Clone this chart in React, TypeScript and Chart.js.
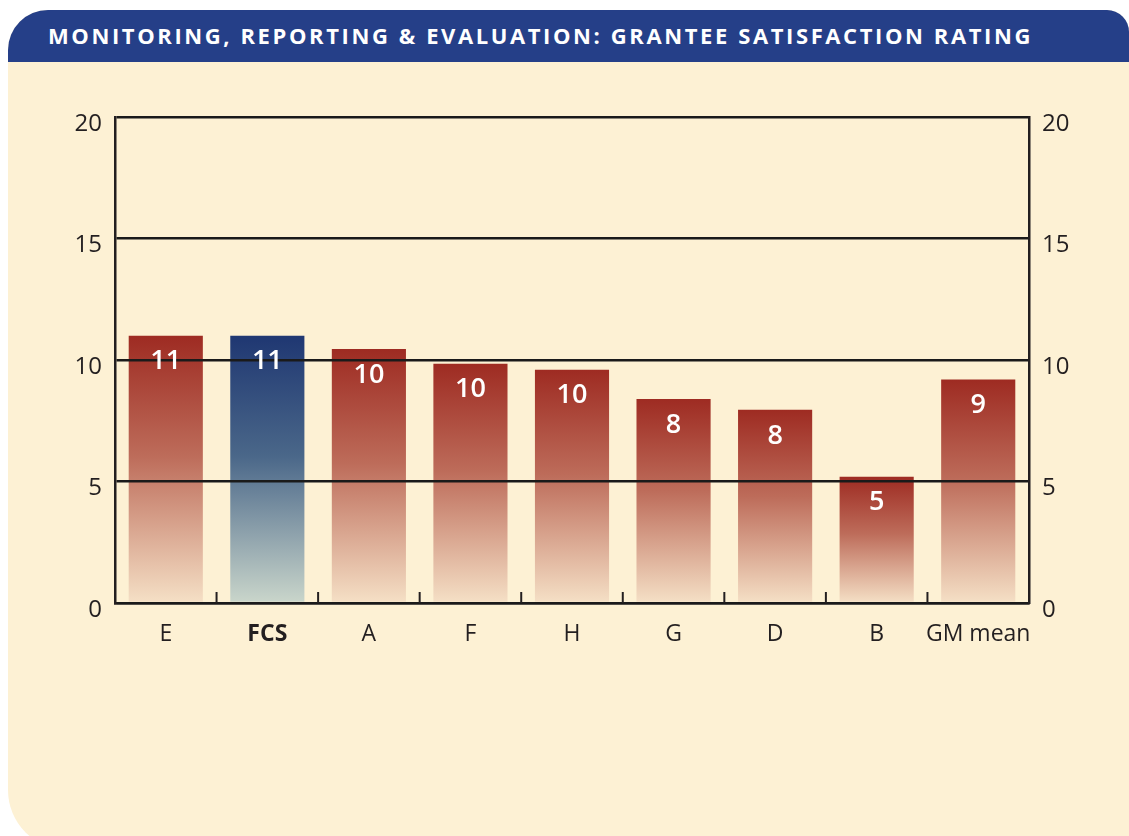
import React, { useEffect, useRef } from "react";
import { Chart, registerables } from "chart.js";

Chart.register(...registerables);

const TITLE = "MONITORING, REPORTING & EVALUATION: GRANTEE SATISFACTION RATING";
const categories = ["E", "FCS", "A", "F", "H", "G", "D", "B", "GM mean"];
const ratings = [11.0, 11.0, 10.45, 9.85, 9.6, 8.4, 7.95, 5.2, 9.2];
const highlighted = "FCS";
const yMin = 0;
const yMax = 20;
const yStep = 5;

const FONT = '"Open Sans", "Noto Sans", sans-serif';
const INK = "#231F20";
const CREAM = "#FDF1D4";
const NAVY = "#253F88";

const RED_STOPS: [number, string][] = [
  [0, "#9E2B22"],
  [0.45, "#BD6C5A"],
  [1, "#F5E0C6"],
];
const BLUE_STOPS: [number, string][] = [
  [0, "#1F3772"],
  [0.45, "#4A6789"],
  [1, "#CAD6CB"],
];

const valueLabels = {
  id: "valueLabels",
  afterDraw(chart: any) {
    const ctx = chart.ctx;
    const meta = chart.getDatasetMeta(0);
    const data = chart.data.datasets[0].data as number[];
    ctx.save();
    ctx.fillStyle = "#FFFFFF";
    ctx.font = `600 27px ${FONT}`;
    ctx.textAlign = "center";
    ctx.textBaseline = "middle";
    meta.data.forEach((bar: any, i: number) => {
      ctx.fillText(String(Math.round(data[i])), bar.x, bar.y + 26);
    });
    ctx.restore();
  },
};

const innerTicks = {
  id: "innerTicks",
  afterDraw(chart: any) {
    const ctx = chart.ctx;
    const x = chart.scales.x;
    const bottom = chart.chartArea.bottom;
    ctx.save();
    ctx.strokeStyle = INK;
    ctx.lineWidth = 2;
    for (let i = 0; i < categories.length - 1; i++) {
      const px = (x.getPixelForValue(i) + x.getPixelForValue(i + 1)) / 2;
      ctx.beginPath();
      ctx.moveTo(px, bottom);
      ctx.lineTo(px, bottom - 11);
      ctx.stroke();
    }
    ctx.restore();
  },
};

function makeGradient(chart: any, value: number, stops: [number, string][]) {
  const { chartArea, scales } = chart;
  if (!chartArea || !scales.y) return stops[0][1];
  const top = scales.y.getPixelForValue(value);
  const bottom = scales.y.getPixelForValue(0);
  const g = chart.ctx.createLinearGradient(0, top, 0, bottom);
  stops.forEach(([o, c]) => g.addColorStop(o, c));
  return g;
}

export default function App() {
  const canvasRef = useRef<HTMLCanvasElement | null>(null);

  useEffect(() => {
    if (!canvasRef.current) return;
    const tickFont = { family: FONT, size: 24 };
    const chart = new Chart(canvasRef.current, {
      type: "bar",
      data: {
        labels: categories,
        datasets: [
          {
            data: ratings,
            backgroundColor: (c: any) => {
              if (c.type !== "data") return RED_STOPS[0][1];
              const stops = categories[c.dataIndex] === highlighted ? BLUE_STOPS : RED_STOPS;
              return makeGradient(c.chart, c.raw as number, stops);
            },
            borderWidth: 0,
            barPercentage: 0.73,
            categoryPercentage: 1,
          },
        ],
      },
      options: {
        responsive: false,
        animation: false,
        layout: { padding: { top: 55, left: 0, right: 0, bottom: 0 } },
        plugins: {
          legend: { display: false },
          tooltip: { enabled: false },
          title: { display: false },
        },
        scales: {
          x: {
            grid: { display: false, drawTicks: false },
            border: { display: true, color: INK, width: 2.5, z: 1 },
            ticks: {
              color: INK,
              padding: 18,
              maxRotation: 0,
              minRotation: 0,
              autoSkip: false,
              font: (c: any) => ({
                family: FONT,
                size: 23,
                weight: categories[c.index] === highlighted ? "bold" : "normal",
              }),
            },
            afterFit: (s: any) => {
              s.height = 59;
            },
          },
          y: {
            position: "left",
            min: yMin,
            max: yMax,
            grid: { color: "#1A1A1A", lineWidth: 2.5, drawTicks: false, z: 1 },
            border: { display: true, color: INK, width: 2.5, z: 1 },
            ticks: { stepSize: yStep, color: INK, padding: 13, labelOffset: 7, font: tickFont },
            afterFit: (s: any) => {
              s.width = 107;
            },
          },
          y2: {
            position: "right",
            min: yMin,
            max: yMax,
            grid: { display: false, drawTicks: false },
            border: { display: true, color: INK, width: 2.5, z: 1 },
            ticks: { stepSize: yStep, color: INK, padding: 13, labelOffset: 7, font: tickFont },
            afterFit: (s: any) => {
              s.width = 100;
            },
          },
        },
      },
      plugins: [innerTicks, valueLabels],
    } as any);
    return () => chart.destroy();
  }, []);

  return (
    <div
      style={{
        position: "fixed",
        left: 8,
        top: 10,
        width: 1121,
        height: 840,
        background: CREAM,
        borderTopLeftRadius: 40,
        borderTopRightRadius: 22,
        borderBottomLeftRadius: 60,
        overflow: "hidden",
      }}
    >
      <div
        style={{
          position: "absolute",
          left: 0,
          top: 0,
          width: "100%",
          height: 52,
          background: NAVY,
          color: "#FFFFFF",
          fontFamily: FONT,
          fontWeight: 700,
          fontSize: 22,
          letterSpacing: "2.6px",
          lineHeight: "50px",
          paddingLeft: 40,
          boxSizing: "border-box",
          whiteSpace: "nowrap",
        }}
      >
        {TITLE}
      </div>
      <canvas
        ref={canvasRef}
        width={1121}
        height={600}
        style={{ position: "absolute", left: 0, top: 52, width: 1121, height: 600 }}
      />
    </div>
  );
}
